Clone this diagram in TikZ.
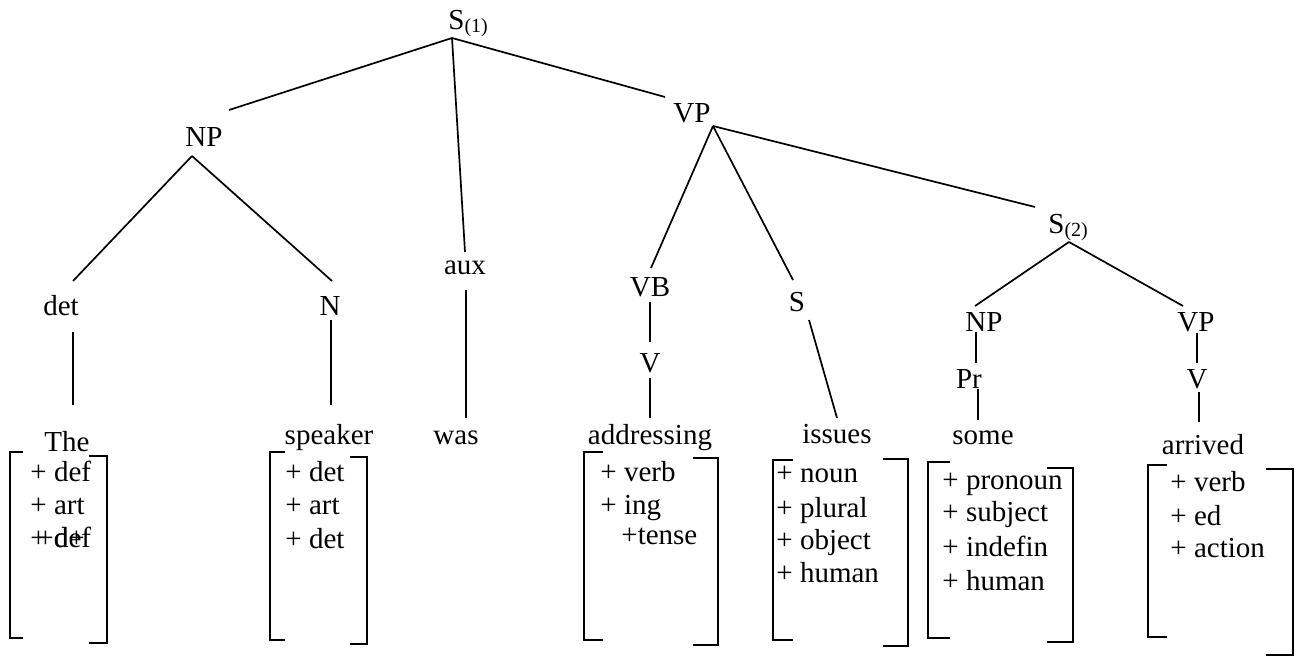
\documentclass[tikz,border=0pt]{standalone}
\usepackage{fontspec}
\setmainfont{Liberation Serif}
\usepackage{tikz}
\tikzset{word/.style={inner sep=0pt, anchor=base, font=\fontsize{14.5}{17}\selectfont}}
\tikzset{feat/.style={inner sep=0pt, anchor=base west, font=\fontsize{14.5}{17}\selectfont}}
\tikzset{branch/.style={line width=0.85pt}}
\tikzset{brack/.style={line width=1pt}}
\newcommand{\subidx}[1]{\raisebox{-1.5pt}{\fontsize{10}{10}\selectfont(#1)}}

\begin{document}
\begin{tikzpicture}[x=0.5pt, y=-0.5pt]
		\useasboundingbox (0,0) rectangle (1299,656);
		% category labels
		\node[word, anchor=base west] (s1) at (448,30) {S\subidx{1}};
		\node[word] (np) at (204,147) {NP};
		\node[word] (vp) at (692,123) {VP};
		\node[word] (aux) at (465,275) {aux};
		\node[word] (det) at (61,316) {det};
		\node[word] (n) at (330,316) {N};
		\node[word] (vb) at (650,297) {VB};
		\node[word] (v) at (650,373) {V};
		\node[word] (s) at (797,312) {S};
		\node[word, anchor=base west] (s2) at (1048,234) {S\subidx{2}};
		\node[word] (np2) at (984,332) {NP};
		\node[word] (vp2) at (1196,332) {VP};
		\node[word] (pr) at (969,389) {Pr};
		\node[word] (v2) at (1197,389) {V};
		% words
		\node[word] (the) at (67,452) {The};
		\node[word] (speaker) at (329,445) {speaker};
		\node[word] (was) at (456,445) {was};
		\node[word] (addressing) at (650,445) {addressing};
		\node[word] (issues) at (837,444) {issues};
		\node[word] (some) at (983,445) {some};
		\node[word] (arrived) at (1203,455) {arrived};

		% branch ends
		\coordinate (s1-b) at (452,38);
		\coordinate (np-t) at (229,110);
		\coordinate (aux-t) at (465,252);
		\coordinate (vp-t) at (665,97);
		\coordinate (np-b) at (192,156);
		\coordinate (det-t) at (73,281);
		\coordinate (n-t) at (332,281);
		\coordinate (det-b) at (73,332);
		\coordinate (the-t) at (73,405);
		\coordinate (n-b) at (331,320);
		\coordinate (speaker-t) at (331,405);
		\coordinate (aux-b) at (466,290);
		\coordinate (was-t) at (466,418);
		\coordinate (vp-b) at (713,126);
		\coordinate (vb-t) at (651,268);
		\coordinate (s-t) at (793,280);
		\coordinate (s2-t) at (1035,207);
		\coordinate (vb-b) at (650,302);
		\coordinate (v-t) at (650,342);
		\coordinate (v-b) at (650,378);
		\coordinate (addressing-t) at (650,418);
		\coordinate (s-b) at (809,320);
		\coordinate (issues-t) at (837,418);
		\coordinate (s2-b) at (1069,242);
		\coordinate (np2-t) at (975,306);
		\coordinate (vp2-t) at (1183,306);
		\coordinate (np2-b) at (976,332);
		\coordinate (pr-t) at (976,363);
		\coordinate (pr-b) at (978,389);
		\coordinate (some-t) at (978,420);
		\coordinate (vp2-b) at (1197,333);
		\coordinate (v2-t) at (1197,363);
		\coordinate (v2-b) at (1199,392);
		\coordinate (arrived-t) at (1199,422);

		\draw[branch] (s1-b) -- (np-t);
		\draw[branch] (s1-b) -- (aux-t);
		\draw[branch] (s1-b) -- (vp-t);
		\draw[branch] (np-b) -- (det-t);
		\draw[branch] (np-b) -- (n-t);
		\draw[branch] (det-b) -- (the-t);
		\draw[branch] (n-b) -- (speaker-t);
		\draw[branch] (aux-b) -- (was-t);
		\draw[branch] (vp-b) -- (vb-t);
		\draw[branch] (vp-b) -- (s-t);
		\draw[branch] (vp-b) -- (s2-t);
		\draw[branch] (vb-b) -- (v-t);
		\draw[branch] (v-b) -- (addressing-t);
		\draw[branch] (s-b) -- (issues-t);
		\draw[branch] (s2-b) -- (np2-t);
		\draw[branch] (s2-b) -- (vp2-t);
		\draw[branch] (np2-b) -- (pr-t);
		\draw[branch] (pr-b) -- (some-t);
		\draw[branch] (vp2-b) -- (v2-t);
		\draw[branch] (v2-b) -- (arrived-t);

		% feature matrices
		\draw[brack] (23,452) -- (10,452) -- (10,638) -- (23,638);
		\draw[brack] (89,456) -- (107,456) -- (107,643) -- (89,643);
		\node[feat] (the-f1) at (30,482) {+ def};
		\node[feat] (the-f2) at (30,515) {+ art};
		\node[feat] (the-f3) at (30,547) {+ def};
		\node[feat] (the-f3b) at (37,547) {+d+};

		\draw[brack] (285,452) -- (270,452) -- (270,640) -- (285,640);
		\draw[brack] (350,457) -- (367,457) -- (367,644) -- (350,644);
		\node[feat] (speaker-f1) at (285,482) {+ det};
		\node[feat] (speaker-f2) at (285,515) {+ art};
		\node[feat] (speaker-f3) at (285,548) {+ det};

		\draw[brack] (603,452) -- (584,452) -- (584,640) -- (603,640);
		\draw[brack] (693,458) -- (718,458) -- (718,645) -- (693,645);
		\node[feat] (addressing-f1) at (600,482) {+ verb};
		\node[feat] (addressing-f2) at (600,515) {+ ing};
		\node[feat] (addressing-f3) at (621,545) {+tense};

		\draw[brack] (793,460) -- (773,460) -- (773,640) -- (793,640);
		\draw[brack] (883,459) -- (908,459) -- (908,646) -- (883,646);
		\node[feat] (issues-f1) at (776,483) {+ noun};
		\node[feat] (issues-f2) at (776,517) {+ plural};
		\node[feat] (issues-f3) at (776,550) {+ object};
		\node[feat] (issues-f4) at (776,582) {+ human};

		\draw[brack] (950,462) -- (928,462) -- (928,638) -- (950,638);
		\draw[brack] (1047,468) -- (1073,468) -- (1073,642) -- (1047,642);
		\node[feat] (some-f1) at (942,490) {+ pronoun};
		\node[feat] (some-f2) at (942,522) {+ subject};
		\node[feat] (some-f3) at (942,557) {+ indefin};
		\node[feat] (some-f4) at (942,590) {+ human};

		\draw[brack] (1167,465) -- (1148,465) -- (1148,637) -- (1167,637);
		\draw[brack] (1266,469) -- (1293,469) -- (1293,655) -- (1266,655);
		\node[feat] (arrived-f1) at (1170,492) {+ verb};
		\node[feat] (arrived-f2) at (1170,525) {+ ed};
		\node[feat] (arrived-f3) at (1170,558) {+ action};
	\end{tikzpicture}
\end{document}
